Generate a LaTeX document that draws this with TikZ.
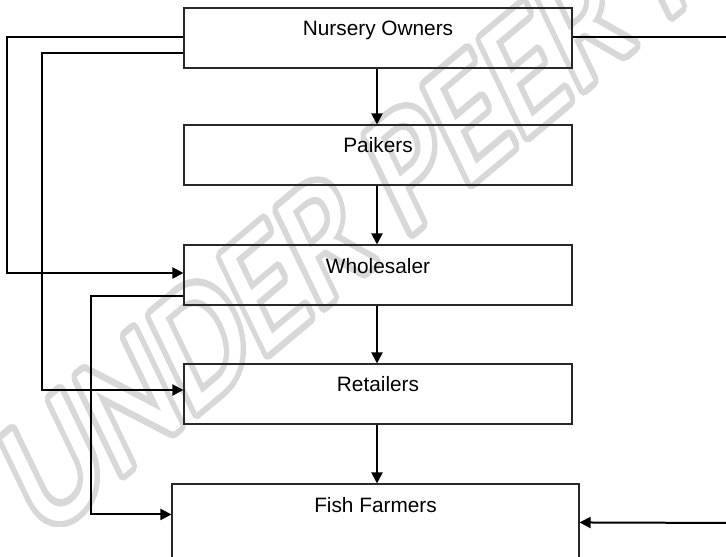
\documentclass[tikz,border=0pt]{standalone}
\usepackage{fontspec}
\setmainfont{Liberation Sans}
\newfontfamily\wmfont{Carlito}
\usetikzlibrary{arrows.meta}
\definecolor{wmgray}{RGB}{216,216,216}
\definecolor{boxline}{RGB}{40,40,40}
\begin{document}
\begin{tikzpicture}[x=1pt,y=-1pt,
  box/.style={draw=boxline,line width=1.1pt,minimum width=388pt,minimum height=60pt,inner sep=0pt},
  lbl/.style={font=\fontsize{20.8}{24}\selectfont,inner sep=0pt,anchor=base},
  conn/.style={draw=black,line width=2pt},
  arr/.style={conn,-{Triangle[length=11pt,width=11pt]}},
  wm/.style={font=\wmfont\fontsize{136}{140}\selectfont,rotate=32.4,transform shape,inner sep=0pt}]
\useasboundingbox (0,0) rectangle (726,557);
\clip (0,0) rectangle (726,557);
\fill[white] (0,0) rectangle (726,557);
% watermark
\begin{scope}[shift={(515,80)},yscale=1.317]
  \foreach \a in {0,10,...,350}{
    \node[wm,text=wmgray] (wm\a) at ({5*cos(\a)},{5*sin(\a)}) {UNDER PEER REVIEW};
  }
  \node[wm,text=white] (wmark) at (0,0) {UNDER PEER REVIEW};
\end{scope}
% boxes
\node[box] (no) at (378,38) {};
\node[box] (pk) at (378,155) {};
\node[box] (wh) at (378,275) {};
\node[box] (rt) at (378,394) {};
\node[box,minimum width=407pt,minimum height=140pt] (ff) at (375.5,554) {};
% labels
\node[lbl] (tno) at ([yshift=-28.5pt]no.north) {Nursery Owners};
\node[lbl] (tpk) at ([yshift=-28.5pt]pk.north) {Paikers};
\node[lbl] (twh) at ([yshift=-29pt]wh.north) {Wholesaler};
\node[lbl] (trt) at ([yshift=-28.5pt]rt.north) {Retailers};
\node[lbl] (tff) at ([yshift=-29pt]ff.north) {Fish Farmers};
% vertical flow
\draw[arr] ([xshift=-1pt]no.south) -- ([xshift=-1pt]pk.north);
\draw[arr] ([xshift=-1pt]pk.south) -- ([xshift=-1pt]wh.north);
\draw[arr] ([xshift=-1pt]wh.south) -- ([xshift=-1pt]rt.north);
\draw[arr] ([xshift=-1pt]rt.south) -- ([xshift=-1pt]rt.south |- ff.north);
% side connectors
\draw[arr] ([yshift=1pt]no.west) -- ++(-176,0) |- ([yshift=2pt]wh.west);
\draw[arr] ([yshift=-15pt]no.west) -- ++(-141,0) |- ([yshift=4pt]rt.west);
\draw[arr] ([yshift=-21pt]wh.west) -- ++(-92,0) |- ([yshift=-31pt]ff.north west);
\coordinate (rtop) at (740,37);
\coordinate (rbot) at (740,523);
\draw[conn] ([yshift=1pt]no.east) -- (rtop);
\draw[arr] (rbot) -- ([yshift=-39pt]ff.north east);
\end{tikzpicture}
\end{document}
